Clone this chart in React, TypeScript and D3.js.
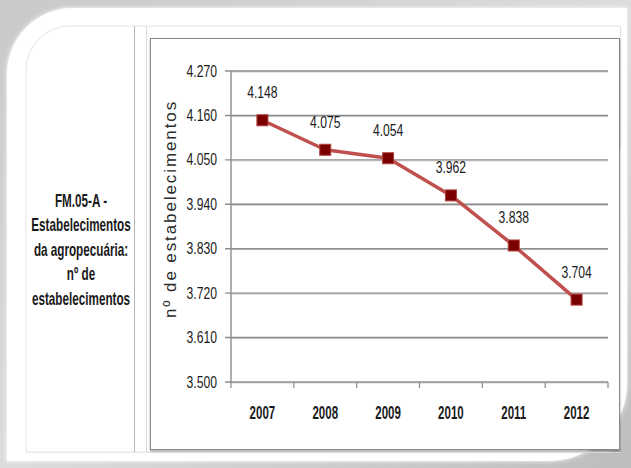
import React from "react";
import * as d3 from "d3";

const years = ["2007", "2008", "2009", "2010", "2011", "2012"];
const values = [4148, 4075, 4054, 3962, 3838, 3704];
const yTicks = [3500, 3610, 3720, 3830, 3940, 4050, 4160, 4270];
const sideLabel = ["FM.05-A -", "Estabelecimentos", "da agropecuária:", "nº de", "estabelecimentos"];
const yTitle = "nº de estabelecimentos";

const W = 631, H = 468;
const plot = { left: 231, right: 608, top: 71, bottom: 382 };
const sans = "'Liberation Sans', Arial, sans-serif";

const fmt = d3.formatLocale({ decimal: ",", thousands: ".", grouping: [3], currency: ["R$", ""] }).format(",d");

type NTProps = { x: number; y: number; anchor?: string; size?: number; bold?: boolean; sx?: number; children: React.ReactNode };
function NarrowText({ x, y, anchor = "middle", size = 15, bold = false, sx = 0.82, children }: NTProps) {
  return (
    <g transform={`translate(${x},${y}) scale(${sx},1)`}>
      <text x={0} y={0} textAnchor={anchor} fontFamily={sans} fontSize={size} fontWeight={bold ? "bold" : "normal"} fill="#1a1a1a">
        {children}
      </text>
    </g>
  );
}

export default function App() {
  const x = d3.scaleBand<string>().domain(years).range([plot.left, plot.right]).padding(0);
  const y = d3.scaleLinear().domain([3500, 4270]).range([plot.bottom, plot.top]);
  const line = d3.line<number>().x((_, i) => x(years[i])! + x.bandwidth() / 2).y((d) => y(d));
  const boundaries = [...years.map((yr) => x(yr)!), plot.right];

  const r1 = 66, r2 = 78;
  const L = 7, T = 8, R = 627, B = 461;
  const card = `M${L + r1},${T} H${R} V${B - r2} A${r2},${r2} 0 0 1 ${R - r2},${B} H${L} V${T + r1} A${r1},${r1} 0 0 1 ${L + r1},${T} Z`;
  const innerR = 44;
  const tbl = { l: 26, t: 26, r: 620, b: 452 };
  const inner = `M${tbl.r},${tbl.t} H${tbl.l + innerR} A${innerR},${innerR} 0 0 0 ${tbl.l},${tbl.t + innerR} V${tbl.b} H${tbl.r - 10}`;

  return (
    <svg width={W} height={H} style={{ position: "absolute", left: 0, top: 0 }} xmlns="http://www.w3.org/2000/svg">
      <defs>
        <linearGradient id="bg" x1="0" y1="0" x2="1" y2="1">
          <stop offset="0" stopColor="#c9c9c9" />
          <stop offset="0.5" stopColor="#dcdcdc" />
          <stop offset="1" stopColor="#bdbdbd" />
        </linearGradient>
        <filter id="soft" x="-5%" y="-5%" width="110%" height="110%">
          <feGaussianBlur stdDeviation="2" />
        </filter>
        <filter id="sh" x="-5%" y="-5%" width="110%" height="110%">
          <feDropShadow dx="0" dy="1.5" stdDeviation="1" floodColor="#000" floodOpacity="0.35" />
        </filter>
      </defs>
      <rect x={0} y={0} width={W} height={H} fill="url(#bg)" />
      <path d={card} fill="#ffffff" filter="url(#soft)" />
      <path d={card} fill="#ffffff" />
      <path d={inner} fill="none" stroke="#e4e4e4" strokeWidth={1} />
      <line x1={134.5} x2={134.5} y1={tbl.t} y2={tbl.b} stroke="#b8b8b8" strokeWidth={1} />
      <line x1={146.5} x2={146.5} y1={tbl.t} y2={tbl.b} stroke="#dadada" strokeWidth={1} />
      <line x1={tbl.l} x2={tbl.r} y1={tbl.b + 0.5} y2={tbl.b + 0.5} stroke="#e8e8e8" />
      <line x1={tbl.r + 0.5} x2={tbl.r + 0.5} y1={tbl.t} y2={150} stroke="#e4e4e4" />

      {/* chart frame */}
      <rect x={150.5} y={38.5} width={469} height={411} fill="#fff" stroke="#8a8a8a" strokeWidth={1} filter="url(#sh)" />

      {sideLabel.map((t, i) => (
        <NarrowText key={i} x={81} y={206.5 + i * 24.6} size={18} sx={0.65} bold>
          {t}
        </NarrowText>
      ))}

      {/* gridlines */}
      {yTicks.map((t) => (
        <g key={t}>
          <line x1={plot.left} x2={plot.right} y1={y(t) + 1} y2={y(t) + 1} stroke="#d0d0d0" strokeWidth={1} />
          <line x1={plot.left - 6} x2={plot.right} y1={y(t)} y2={y(t)} stroke="#8c8c8c" strokeWidth={1.4} />
          <NarrowText x={217} y={y(t) + 5.5} anchor="end" size={16} sx={0.76}>
            {fmt(t)}
          </NarrowText>
        </g>
      ))}
      <line x1={plot.left} x2={plot.left} y1={plot.top} y2={plot.bottom} stroke="#8c8c8c" strokeWidth={1.4} />
      {boundaries.map((b, i) => (
        <line key={i} x1={b} x2={b} y1={plot.bottom} y2={plot.bottom + 6} stroke="#8c8c8c" strokeWidth={1.2} />
      ))}
      {years.map((yr) => (
        <NarrowText key={yr} x={x(yr)! + x.bandwidth() / 2} y={418.5} size={18} sx={0.64} bold>
          {yr}
        </NarrowText>
      ))}

      <text
        transform={`translate(176,209) rotate(-90)`}
        textAnchor="middle"
        fontFamily={sans}
        fontSize={17}
        letterSpacing={1.9}
        fill="#2a2a2a"
      >
        {yTitle}
      </text>

      <path d={line(values) ?? ""} fill="none" stroke="#c0504d" strokeWidth={3.5} strokeLinejoin="round" />
      {values.map((v, i) => {
        const cx = x(years[i])! + x.bandwidth() / 2;
        const cy = y(v);
        return (
          <g key={i}>
            <rect x={cx - 5.5} y={cy - 5.5} width={11} height={11} fill="#7a0000" stroke="#b0403d" strokeWidth={1} />
            <NarrowText x={cx} y={cy - 22} size={16} sx={0.76}>
              {fmt(v)}
            </NarrowText>
          </g>
        );
      })}
    </svg>
  );
}
